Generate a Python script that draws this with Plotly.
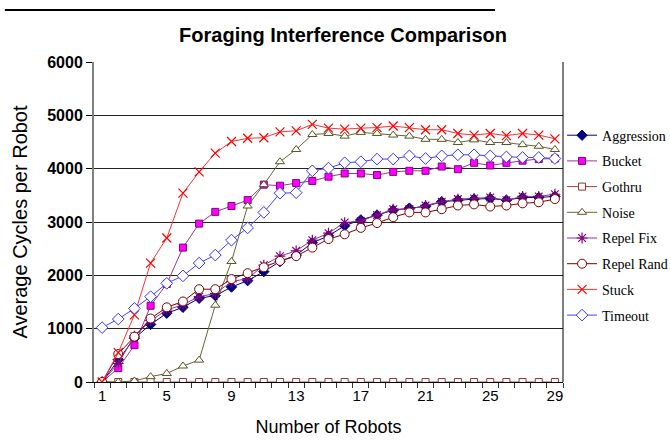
import plotly.graph_objects as go

robots = list(range(1, 30))
x_tick_vals = [1, 5, 9, 13, 17, 21, 25, 29]

aggression = [0, 420, 820, 1080, 1290, 1400, 1570, 1620, 1780, 1900, 2070, 2260, 2380, 2610, 2740,
              2930, 3040, 3130, 3220, 3260, 3290, 3380, 3410, 3430, 3440, 3410, 3460, 3460, 3480]
bucket = [0, 260, 690, 1430, 1840, 2520, 2970, 3190, 3300, 3410, 3700, 3680, 3730, 3770, 3850,
          3910, 3910, 3880, 3940, 3960, 3960, 4040, 3990, 4110, 4060, 4110, 4150, 4180, 4190]
gothru = [0] * 29
noise = [0, 0, 20, 100, 160, 300, 410, 1440, 2260, 3300, 3700, 4130, 4360, 4640, 4660,
         4610, 4680, 4660, 4630, 4610, 4550, 4550, 4490, 4540, 4490, 4490, 4450, 4420, 4360]
repel_fix = [0, 350, 860, 1150, 1350, 1450, 1600, 1660, 1880, 1940, 2190, 2360, 2460, 2660, 2790,
             2990, 3020, 3130, 3240, 3240, 3310, 3380, 3430, 3440, 3460, 3410, 3480, 3480, 3520]
repel_rand = [0, 525, 850, 1190, 1400, 1510, 1740, 1740, 1930, 2040, 2150, 2270, 2360, 2520, 2680,
              2770, 2890, 2980, 3090, 3180, 3180, 3240, 3310, 3330, 3290, 3310, 3350, 3370, 3430]
stuck = [0, 550, 1260, 2230, 2700, 3540, 3940, 4290, 4510, 4570, 4580, 4690, 4710, 4830, 4760,
         4740, 4760, 4770, 4800, 4770, 4730, 4730, 4660, 4630, 4660, 4620, 4660, 4630, 4560]
timeout = [1020, 1180, 1380, 1600, 1850, 1990, 2230, 2380, 2660, 2890, 3180, 3540, 3550, 3960, 4010,
           4110, 4130, 4180, 4180, 4240, 4190, 4240, 4260, 4260, 4240, 4220, 4210, 4210, 4190]

series = [
    ("Aggression", aggression, "#000080", dict(symbol="diamond", size=8, color="#000080", line=dict(color="#000080", width=1))),
    ("Bucket", bucket, "#993399", dict(symbol="square", size=7, color="#FF00FF", line=dict(color="#800080", width=1))),
    ("Gothru", gothru, "#A0403F", dict(symbol="square", size=7, color="white", line=dict(color="#993333", width=1))),
    ("Noise", noise, "#666633", dict(symbol="triangle-up", size=8, color="white", line=dict(color="#555522", width=1))),
    ("Repel Fix", repel_fix, "#993399", dict(symbol="asterisk", size=9, color="#800080", line=dict(color="#800080", width=1.2))),
    ("Repel Rand", repel_rand, "#800000", dict(symbol="circle", size=9, color="white", line=dict(color="#800000", width=1))),
    ("Stuck", stuck, "#FF3333", dict(symbol="x-thin", size=9, color="#FF0000", line=dict(color="#FF0000", width=1.2))),
    ("Timeout", timeout, "#4444FF", dict(symbol="diamond", size=9, color="white", line=dict(color="#3333FF", width=1))),
]

fig = go.Figure()
for name, vals, lc, mk in series:
    fig.add_trace(go.Scatter(x=robots, y=vals, name=name, mode="lines+markers",
                             line=dict(color=lc, width=1), marker=mk, legendgroup=name))

fig.update_layout(
    width=670, height=443,
    margin=dict(l=94, r=107, t=62, b=61, autoexpand=False),
    paper_bgcolor="white", plot_bgcolor="white",
    title=dict(text="<b>Foraging Interference Comparison</b>", x=0.512, xanchor="center",
               y=0.921, yanchor="middle", font=dict(family="Liberation Sans, Arial", size=20, color="black")),
    showlegend=True,
    legend=dict(x=0.998, xanchor="left", y=0.82, yanchor="top", bgcolor="rgba(0,0,0,0)",
                font=dict(family="Liberation Serif, Times New Roman", size=14, color="black"),
                tracegroupgap=4.5, itemwidth=30),
    xaxis=dict(range=[0.5, 29.5], tickvals=x_tick_vals, ticktext=[str(v) for v in x_tick_vals],
               showgrid=False, zeroline=False, showline=True, linecolor="black", linewidth=1,
               ticks="", tickfont=dict(family="Liberation Sans, Arial", size=15, color="black"),
               minor=dict(ticks="outside", tick0=0.5, dtick=1, ticklen=5, tickcolor="#333333"),
               title=dict(text="Number of Robots", standoff=17,
                          font=dict(family="Liberation Sans, Arial", size=18, color="black"))),
    xaxis2=dict(range=[0.5, 29.5], overlaying="x", side="bottom", anchor="y", showgrid=False,
                zeroline=False, showticklabels=False, ticks="",
                minor=dict(ticks="inside", tick0=0.5, dtick=1, ticklen=5, tickcolor="#333333")),
    yaxis=dict(range=[0, 6000], dtick=1000, showgrid=True, gridcolor="#222222", gridwidth=1,
               zeroline=False, showline=True, linecolor="#808080", linewidth=2,
               ticks="outside", ticklen=6, tickcolor="black",
               tickfont=dict(family="Liberation Sans, Arial", size=16, color="black", weight="bold"),
               title=dict(text="Average Cycles per Robot", standoff=14,
                          font=dict(family="Liberation Sans, Arial", size=20, color="black"))),
    shapes=[
        dict(type="line", xref="paper", yref="paper", x0=1, x1=1, y0=0, y1=1,
             line=dict(color="black", width=1)),
        dict(type="line", xref="paper", yref="paper", x0=-0.19, x1=0.855, y0=1.1625, y1=1.1625,
             line=dict(color="black", width=2)),
    ],
)

fig.write_html("out.html")
